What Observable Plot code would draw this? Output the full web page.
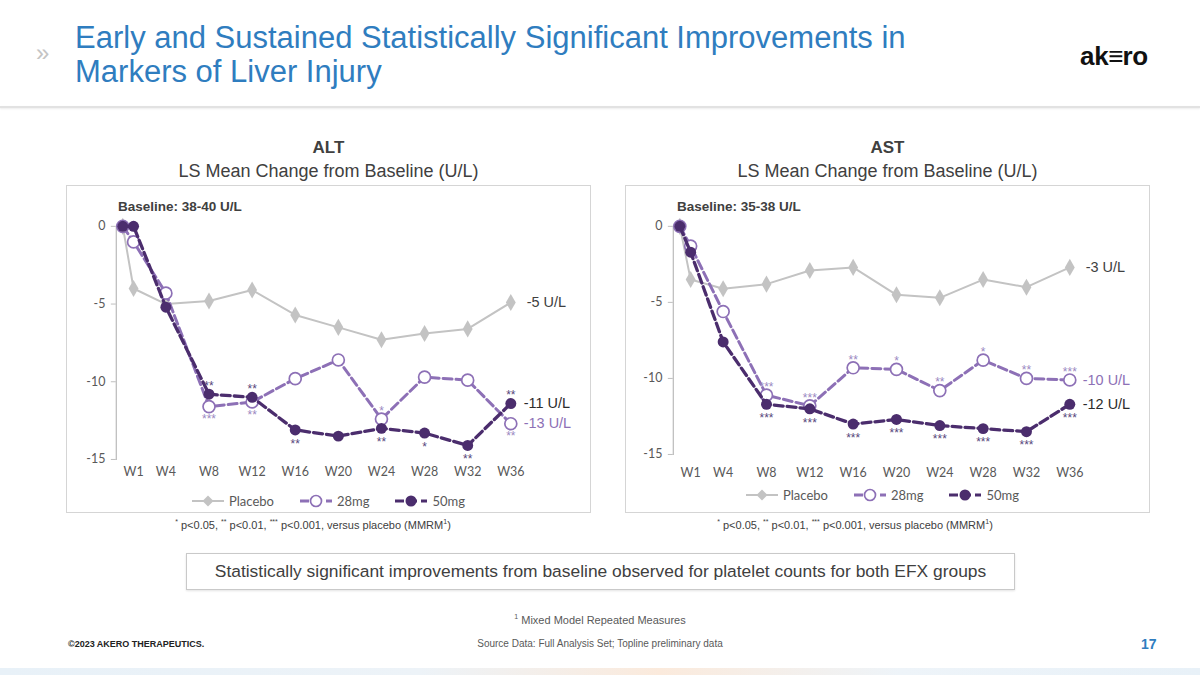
<!DOCTYPE html>
<html>
<head>
<meta charset="utf-8">
<script src="https://cdn.jsdelivr.net/npm/d3@7"></script>
<script src="https://cdn.jsdelivr.net/npm/@observablehq/plot@0.6"></script>
<style>
  html, body { margin:0; padding:0; background:#fff; }
  #page { position:relative; width:1200px; height:675px; overflow:hidden; font-family:"Liberation Sans", Arial, sans-serif; color:#404040; }
  .abs { position:absolute; }
  .title { left:75px; top:21px; font-family:"Liberation Sans",sans-serif; font-size:31px; line-height:34px; color:#2f7dbf; white-space:nowrap; }
  .chev { left:36px; top:39px; font-size:24px; color:#c4c4c4; }
  .logo { left:1080px; top:41px; font-size:26px; font-weight:bold; color:#111; letter-spacing:-0.3px; }
  .divider { left:0; top:106px; width:1200px; height:2px; background:#e2e2e2; box-shadow:0 1px 2px #ececec; }
  .hdr { width:525px; text-align:center; color:#404040; }
  .hdr b { display:block; font-size:17px; line-height:20px; }
  .hdr span { display:block; font-size:18px; line-height:22px; margin-top:2px; }
  .frame { width:523px; height:326px; border:1px solid #d5d5d5; }
  .frame svg { position:absolute; left:0; top:0; }
  .base { font-size:13.5px; font-weight:bold; color:#404040; }
  .legend { font-family:Lato, sans-serif; font-size:13px; color:#595959; display:flex; align-items:center; white-space:nowrap; }
  .legend .it { display:flex; align-items:center; margin-right:26px; }
  .legend svg { margin-right:5px; }
  .fn { width:300px; text-align:center; font-family:"Liberation Sans",sans-serif; font-size:11px; color:#404040; white-space:nowrap; }
  .fn sup { font-size:7px; vertical-align:5px; }
  .box { left:186px; top:553px; width:827px; height:35px; border:1px solid #c9c9c9; box-shadow:0 1px 2px #e4e4e4; text-align:center; line-height:35px; font-family:"Liberation Sans",sans-serif; font-size:17.4px; color:#404040; white-space:nowrap; }
  .small { font-family:"Liberation Sans",sans-serif; font-size:11px; color:#595959; white-space:nowrap; }
  .strip { left:0; top:668px; width:1200px; height:7px; background:linear-gradient(90deg,#e8f1f8 0%,#edf3f8 35%,#fbeadc 55%,#eef4f9 75%,#e8f1f8 100%); }
</style>
</head>
<body>
<div id="page"></div>
<script>
// ---------- data ----------
const weeks = [0, 1, 4, 8, 12, 16, 20, 24, 28, 32, 36];
const tickWeeks = [1, 4, 8, 12, 16, 20, 24, 28, 32, 36];
const tickLabels = ["W1", "W4", "W8", "W12", "W16", "W20", "W24", "W28", "W32", "W36"];
const yTicks = [0, -5, -10, -15];
const groups = ["Placebo", "28mg", "50mg"];

// ALT: LS mean change from baseline (U/L)
const altPlacebo = [0, -4.0, -5.0, -4.8, -4.1, -5.7, -6.5, -7.3, -6.9, -6.6, -4.9];
const alt28 = [0, -1.0, -4.3, -11.6, -11.3, -9.8, -8.6, -12.4, -9.7, -9.9, -12.7];
const alt50 = [0, 0, -5.2, -10.8, -11.0, -13.1, -13.5, -13.0, -13.3, -14.1, -11.4];
const altStars28 = ["", "", "", "***", "**", "", "", "*", "", "", "**"];
const altStars50 = ["", "", "", "**", "**", "**", "", "**", "*", "**", "**"];
const altEndLabels = ["-5 U/L", "-13 U/L", "-11 U/L"];

// AST: LS mean change from baseline (U/L)
const astPlacebo = [0, -3.5, -4.1, -3.8, -2.9, -2.7, -4.5, -4.7, -3.5, -4.0, -2.7];
const ast28 = [0, -1.3, -5.6, -11.1, -11.8, -9.3, -9.4, -10.8, -8.8, -10.0, -10.1];
const ast50 = [0, -1.7, -7.6, -11.7, -12.0, -13.0, -12.7, -13.1, -13.3, -13.5, -11.7];
const astStars28 = ["", "", "", "***", "***", "**", "*", "**", "*", "**", "***"];
const astStars50 = ["", "", "", "***", "***", "***", "***", "***", "***", "***", "***"];
const astEndLabels = ["-3 U/L", "-10 U/L", "-12 U/L"];

// ---------- styles ----------
const C = { placebo: "#c3c3c3", m28: "#8d70b6", m50: "#4b2d6d", star28: "#9a88c2", star50: "#55467a", endDark: "#2b2b2b", endGray: "#404040" };

function rows(vals, stars, group) {
  return weeks.map((w, i) => ({ week: w, value: vals[i], star: stars ? stars[i] : "", group }));
}

function chart(cfg) {
  const P = rows(cfg.placebo, null, groups[0]);
  const A = rows(cfg.d28, cfg.s28, groups[1]);
  const B = rows(cfg.d50, cfg.s50, groups[2]);
  const endP = [{ ...P[P.length - 1], label: cfg.ends[0] }];
  const endA = [{ ...A[A.length - 1], label: cfg.ends[1] }];
  const endB = [{ ...B[B.length - 1], label: cfg.ends[2] }];
  const xy = { x: "week", y: "value" };
  const starOpt = { x: "week", y: "value", text: "star", fontSize: 12, fontFamily: "Liberation Sans, sans-serif", lineAnchor: "middle" };
  const endOpt = { x: "week", y: "value", text: "label", textAnchor: "start", lineAnchor: "middle", fontSize: 14.5, fontFamily: "Liberation Sans, sans-serif" };
  return Plot.plot({
    width: 525, height: 328,
    marginLeft: cfg.marginLeft, marginRight: 80, marginTop: 40, marginBottom: cfg.marginBottom,
    x: { domain: [-0.6, 36] },
    y: { domain: [-15, 0] },
    style: { fontFamily: "Lato, sans-serif", fontSize: "12.5px", color: "#595959", background: "transparent", overflow: "visible" },
    marks: [
      Plot.frame({ anchor: "left", stroke: "#bfbfbf", strokeWidth: 1.3 }),
      Plot.axisY({ ticks: yTicks, tickSize: 5, tickPadding: 6, tickFormat: d => String(d), stroke: "#bfbfbf", fill: "#595959", label: null }),
      Plot.axisX({ ticks: tickWeeks, tickSize: 0, tickPadding: cfg.tickPad, tickFormat: d => tickLabels[tickWeeks.indexOf(d)], fill: "#595959", label: null }),
      Plot.line(P, { ...xy, stroke: C.placebo, strokeWidth: 2 }),
      Plot.dot(P, { ...xy, symbol: "diamond", r: 5.2, fill: C.placebo }),
      Plot.line(A, { ...xy, stroke: C.m28, strokeWidth: 3, strokeDasharray: "9,4" }),
      Plot.dot(A, { ...xy, r: 6, fill: "white", stroke: C.m28, strokeWidth: 1.7 }),
      Plot.line(B, { ...xy, stroke: C.m50, strokeWidth: 3.3, strokeDasharray: "9,4" }),
      Plot.dot(B, { ...xy, r: 5.5, fill: C.m50 }),
      Plot.text(A.filter(d => d.star && cfg.up28.includes(d.week)), { ...starOpt, dy: -8, fill: C.star28 }),
      Plot.text(A.filter(d => d.star && !cfg.up28.includes(d.week)), { ...starOpt, dy: 13, fill: C.star28 }),
      Plot.text(B.filter(d => d.star && cfg.up50.includes(d.week)), { ...starOpt, dy: -8, fill: C.star50 }),
      Plot.text(B.filter(d => d.star && !cfg.up50.includes(d.week)), { ...starOpt, dy: 14, fill: C.star50 }),
      Plot.text(endP, { ...endOpt, dx: 16, fill: C.endGray }),
      Plot.text(endA, { ...endOpt, dx: 13, fill: C.m28 }),
      Plot.text(endB, { ...endOpt, dx: 13, fill: C.endDark })
    ]
  });
}

function swatch(kind) {
  const ns = "http://www.w3.org/2000/svg";
  const s = document.createElementNS(ns, "svg");
  s.setAttribute("width", 32); s.setAttribute("height", 14);
  let line = `<line x1="0" y1="7" x2="32" y2="7" stroke="${kind === 0 ? C.placebo : kind === 1 ? C.m28 : C.m50}" stroke-width="${kind === 0 ? 2 : 3}" ${kind === 0 ? "" : 'stroke-dasharray="9,4"'}/>`;
  let mk = kind === 0 ? `<path d="M16,1.5L21.5,7L16,12.5L10.5,7Z" fill="${C.placebo}"/>`
    : kind === 1 ? `<circle cx="16" cy="7" r="5.5" fill="white" stroke="${C.m28}" stroke-width="1.7"/>`
    : `<circle cx="16" cy="7" r="5.5" fill="${C.m50}"/>`;
  s.innerHTML = line + mk;
  return s;
}

function el(cls, html, style) {
  const d = document.createElement("div");
  d.className = "abs " + cls;
  if (html != null) d.innerHTML = html;
  Object.assign(d.style, style || {});
  page.appendChild(d);
  return d;
}

const page = document.getElementById("page");
el("chev", "»");
el("title", "Early and Sustained Statistically Significant Improvements in<br>Markers of Liver Injury");
el("logo", "ak<span style='letter-spacing:-1px'>≡</span>ro");
el("divider");

const panels = [
  { left: 66, name: "ALT", base: "Baseline: 38-40 U/L", placebo: altPlacebo, d28: alt28, d50: alt50, s28: altStars28, s50: altStars50, ends: altEndLabels, up28: [24], up50: [8, 12, 36], marginLeft: 49, marginBottom: 54, tickPad: 8, legendLeft: 126, legendTop: 493, fnCenter: 313 },
  { left: 625, name: "AST", base: "Baseline: 35-38 U/L", placebo: astPlacebo, d28: ast28, d50: ast50, s28: astStars28, s50: astStars50, ends: astEndLabels, up28: [8, 12, 16, 20, 24, 28, 32, 36], up50: [], marginLeft: 47, marginBottom: 59, tickPad: 14, legendLeft: 121, legendTop: 487, fnCenter: 855 }
];

for (const p of panels) {
  el("hdr", `<b>${p.name}</b><span>LS Mean Change from Baseline (U/L)</span>`, { left: p.left + "px", top: "138px" });
  const fr = el("frame", null, { left: p.left + "px", top: "185px" });
  fr.appendChild(chart(p));
  el("base", p.base, { left: (p.left + 52) + "px", top: "199px" });
  const lg = el("legend", null, { left: (p.left + p.legendLeft) + "px", top: p.legendTop + "px" });
  groups.forEach((g, i) => {
    const it = document.createElement("div");
    it.className = "it";
    it.appendChild(swatch(i));
    const t = document.createElement("span"); t.textContent = g;
    it.appendChild(t);
    lg.appendChild(it);
  });
  el("fn", "<sup>*</sup> p&lt;0.05, <sup>**</sup> p&lt;0.01, <sup>***</sup> p&lt;0.001, versus placebo (MMRM<sup>1</sup>)", { left: (p.fnCenter - 150) + "px", top: "518px" });
}

el("box", "Statistically significant improvements from baseline observed for platelet counts for both EFX groups");
el("small", "<sup style='font-size:7px'>1</sup> Mixed Model Repeated Measures", { left: "0px", width: "1200px", textAlign: "center", top: "613px" });
el("small", "Source Data: Full Analysis Set; Topline preliminary data", { left: "0px", width: "1200px", textAlign: "center", top: "638px", fontSize: "10px" });
el("small", "©2023 AKERO THERAPEUTICS.", { left: "68px", top: "639px", fontWeight: "bold", fontSize: "9px", color: "#222" });
el("small", "17", { left: "1141px", top: "636px", fontWeight: "bold", fontSize: "14px", color: "#2f7dbf" });
el("strip");
</script>
</body>
</html>
